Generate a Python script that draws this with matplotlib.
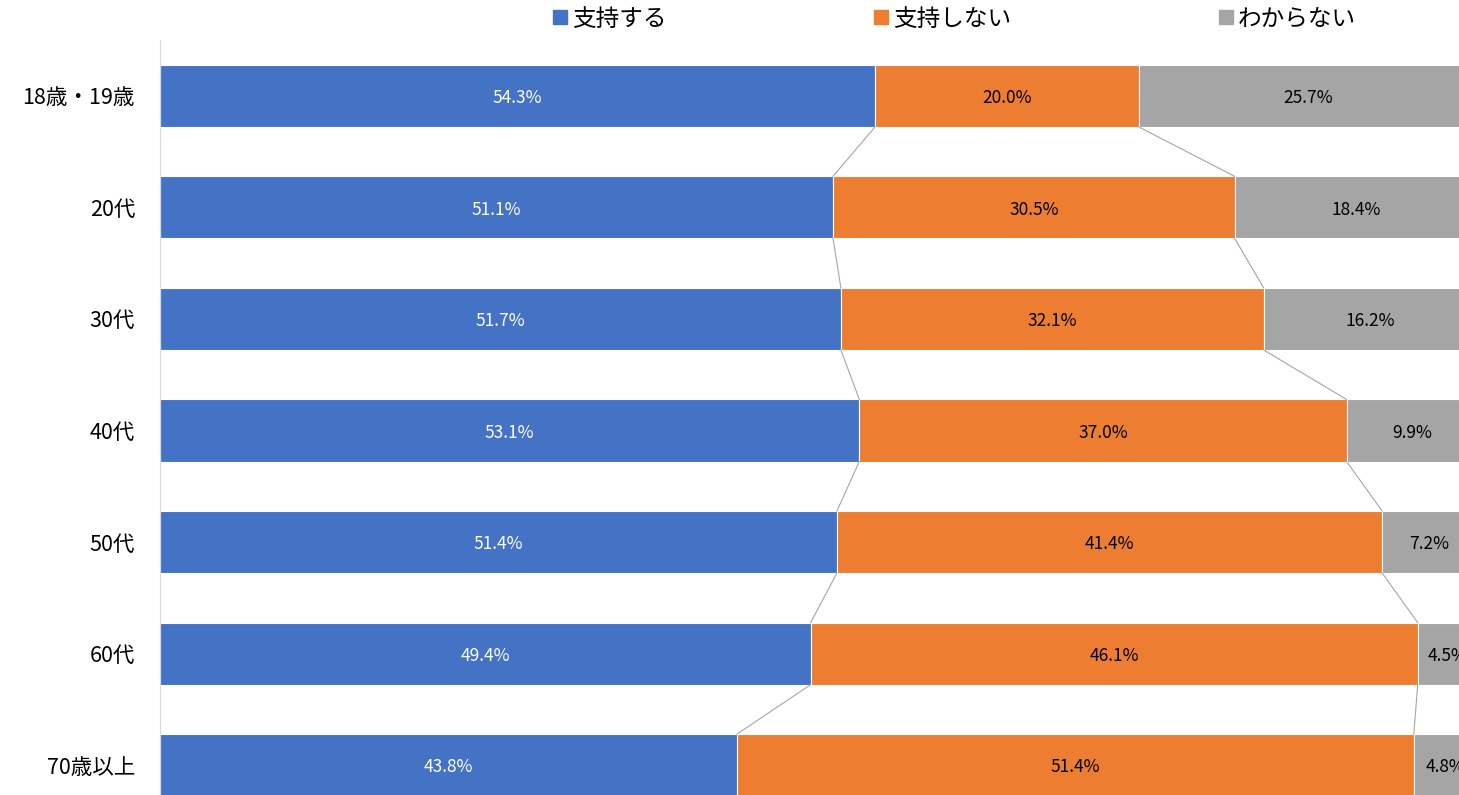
import numpy as np
import matplotlib.pyplot as plt
from matplotlib.lines import Line2D

plt.rcParams['font.family'] = ['Noto Sans CJK JP', 'DejaVu Sans']

# data
age_groups = ['18歳・19歳', '20代', '30代', '40代', '50代', '60代', '70歳以上']
series_names = ['支持する', '支持しない', 'わからない']
support = [54.3, 51.1, 51.7, 53.1, 51.4, 49.4, 43.8]
oppose = [20.0, 30.5, 32.1, 37.0, 41.4, 46.1, 51.4]
unknown = [25.7, 18.4, 16.2, 9.9, 7.2, 4.5, 4.8]
colors = ['#4472C4', '#ED7D31', '#A5A5A5']
label_colors = ['white', 'black', 'black']


def main():
    fig = plt.figure(figsize=(14.59, 7.95), dpi=100)
    # axes runs past the right and bottom edge, like the cropped original
    ax = fig.add_axes([160 / 1459, 1 - 821 / 795, 1317 / 1459, 781 / 795])

    y = np.arange(len(age_groups))
    bar_h = 0.556
    values = [np.array(support), np.array(oppose), np.array(unknown)]
    left = np.zeros(len(age_groups))
    for vals, col, lc in zip(values, colors, label_colors):
        ax.barh(y, vals, left=left, height=bar_h, color=col,
                edgecolor='white', linewidth=0.8)
        for yi, l, v in zip(y, left, vals):
            ax.text(l + v / 2, yi + 0.02, f'{v:.1f}%', ha='center',
                    va='center', color=lc, fontsize=12.5)
        left = left + vals

    # series lines between the bars
    cum1 = np.array(support)
    cum2 = cum1 + np.array(oppose)
    for cum in (cum1, cum2):
        for i in range(len(age_groups) - 1):
            ax.plot([cum[i], cum[i + 1]], [i + bar_h / 2, i + 1 - bar_h / 2],
                    color='#A6A6A6', linewidth=0.8)

    ax.set_xlim(0, 100)
    ax.set_ylim(len(age_groups) - 0.5, -0.5)
    ax.set_yticks(y)
    ax.set_yticklabels(age_groups, fontsize=15.5)
    ax.tick_params(axis='y', length=0, pad=18)
    ax.set_xticks([])
    for s in ['top', 'right', 'bottom']:
        ax.spines[s].set_visible(False)
    ax.spines['left'].set_color('#D9D9D9')

    handles = [Line2D([], [], marker='s', linestyle='none', markersize=10,
                      color=c) for c in colors]
    fig.legend(handles, series_names, loc='center', ncol=3,
               bbox_to_anchor=(953 / 1459, 1 - 19 / 795), frameon=False,
               fontsize=17, columnspacing=8.7, handletextpad=0.1,
               handlelength=0.8, borderpad=0)

    plt.savefig('out.png', dpi=100)
    plt.close()


if __name__ == "__main__":
    main()
